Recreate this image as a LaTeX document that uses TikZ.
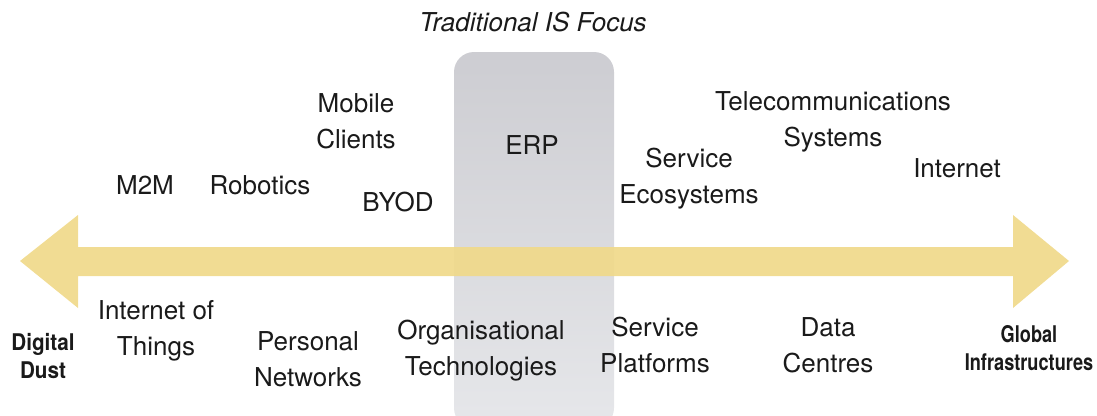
\documentclass[tikz,border=0pt]{standalone}
\usepackage{fontspec}
\setmainfont{TeX Gyre Heros}
\newfontfamily\dustfont[FakeStretch=0.9]{TeX Gyre Heros}
\newfontfamily\globefont[FakeStretch=0.79]{TeX Gyre Heros}
\definecolor{ink}{HTML}{1A1A1A}
\definecolor{gold}{HTML}{F0D98A}
\definecolor{boxtop}{HTML}{CDCDD2}
\definecolor{boxbot}{HTML}{E6E7EA}
\begin{document}
\begin{tikzpicture}[x=1pt,y=-1pt,
  lbl/.style={align=center, inner sep=0pt, text=ink, font=\fontsize{26}{36}\selectfont},
  pole/.style={align=center, inner sep=0pt, text=ink},
  heading/.style={inner sep=0pt, text=ink, font=\itshape\fontsize{26}{30}\selectfont},
]
\useasboundingbox (0,0) rectangle (1097,415);
\clip (0,0) rectangle (1097,415);

% focus band of traditional IS
\shade[top color=boxtop, bottom color=boxbot, rounded corners=20pt]
  (454,52) rectangle (614,428);

% double-headed continuum arrow
\fill[gold, opacity=0.92]
  (20,261) -- (78,215) -- (78,247) -- (1013,247) -- (1013,215)
  -- (1069,261) -- (1013,308) -- (1013,276) -- (78,276) -- (78,308) -- cycle;

\node[heading] (title) at (533,22) {Traditional IS Focus};

% items above the arrow
\node[lbl] (mobile)  at (356,121) {Mobile\\Clients};
\node[lbl] (m2m)     at (145,185) {M2M};
\node[lbl] (robot)   at (260,185) {Robotics};
\node[lbl] (byod)    at (398,202) {BYOD};
\node[lbl] (erp)     at (532,145) {ERP};
\node[lbl] (svceco)  at (689,179) {Service\\Ecosystems};
\node[lbl] (telecom) at (833,122) {Telecommunications\\Systems};
\node[lbl] (inet)    at (957,168) {Internet};

% items below the arrow
\node[lbl] (iot)     at (156,331) {Internet of\\Things};
\node[lbl] (pers)    at (308,359) {Personal\\Networks};
\node[lbl] (org)     at (481,351) {Organisational\\Technologies};
\node[lbl] (svcplat) at (655,345) {Service\\Platforms};
\node[lbl] (data)    at (828,345) {Data\\Centres};

% ends of the continuum
\node[pole, font=\dustfont\bfseries\fontsize{23}{28}\selectfont]
  (dust) at (43,356) {Digital\\Dust};
\node[pole, font=\globefont\bfseries\fontsize{23}{28}\selectfont]
  (global) at (1029,348) {Global\\Infrastructures};
\end{tikzpicture}
\end{document}
